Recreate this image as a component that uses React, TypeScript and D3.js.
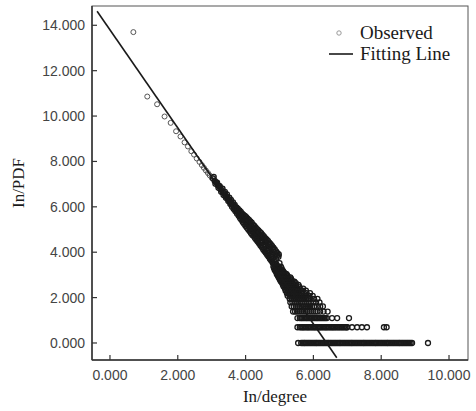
import React from "react";
import * as d3 from "d3";

const xTicks = [0, 2, 4, 6, 8, 10];
const yTicks = [0, 2, 4, 6, 8, 10, 12, 14];

// fitted line: ln(PDF) = intercept + slope * ln(degree)
const fitIntercept = 13.8;
const fitSlope = -2.16;
const fitRange = [-0.38, 6.69];

// low degrees, separate circles
const sparsePoints: [number, number][] = [
  [0.69, 13.7], [1.1, 10.86], [1.39, 10.52], [1.61, 9.98], [1.79, 9.7],
  [1.95, 9.33], [2.08, 9.1], [2.2, 8.84], [2.3, 8.66], [2.4, 8.45],
  [2.48, 8.3], [2.56, 8.13], [2.64, 7.98], [2.71, 7.84], [2.77, 7.72],
  [2.83, 7.6], [2.89, 7.49], [2.94, 7.39], [3.0, 7.28],
];

// dense band
const bandPoints: [number, number][] = [
  [3.04, 7.25], [3.09, 7.14], [3.13, 7.08], [3.18, 6.95], [3.22, 6.92],
  [3.26, 6.78], [3.3, 6.74], [3.33, 6.64], [3.37, 6.6], [3.4, 6.5],
  [3.43, 6.47], [3.47, 6.36], [3.5, 6.33], [3.53, 6.22], [3.56, 6.21],
  [3.58, 6.12], [3.61, 6.13], [3.64, 6.02], [3.66, 6.03], [3.69, 5.92],
  [3.71, 5.95], [3.74, 5.82], [3.76, 5.86], [3.78, 5.74], [3.81, 5.76],
  [3.83, 5.64], [3.85, 5.7], [3.87, 5.58], [3.89, 5.62], [3.91, 5.5],
  [3.93, 5.56], [3.95, 5.4], [3.97, 5.5], [3.99, 5.34], [4.01, 5.44],
  [4.03, 5.26], [4.05, 5.38], [4.07, 5.18], [4.09, 5.32], [4.11, 5.1],
  [4.13, 5.26], [4.15, 5.02], [4.17, 5.18], [4.19, 4.96], [4.21, 5.1],
  [4.23, 4.88], [4.25, 5.04], [4.27, 4.8], [4.29, 4.98], [4.31, 4.72],
  [4.33, 4.92], [4.35, 4.62], [4.37, 4.86], [4.39, 4.56], [4.41, 4.78],
  [4.43, 4.48], [4.45, 4.72], [4.47, 4.4], [4.49, 4.66], [4.51, 4.3],
  [4.53, 4.6], [4.55, 4.22], [4.57, 4.52], [4.59, 4.14], [4.61, 4.46],
  [4.63, 4.06], [4.65, 4.4], [4.67, 3.96], [4.69, 4.32], [4.71, 3.88],
  [4.73, 4.24], [4.75, 3.8], [4.77, 4.18], [4.79, 3.72], [4.81, 4.1],
  [4.83, 3.64], [4.85, 4.0], [4.87, 3.56], [4.89, 3.92], [4.91, 3.46],
  [4.93, 3.86], [4.95, 3.38], [4.97, 3.8], [4.99, 3.3],
  [4.1, 5.2], [4.2, 5.0], [4.3, 4.85], [4.4, 4.66], [4.5, 4.48],
  [4.6, 4.3], [4.7, 4.1], [4.8, 3.92], [4.9, 3.7], [5.0, 3.52],
];

// band edges, upper and lower scatter
const bandEdgePoints: [number, number][] = [
  [3.06, 7.32], [3.11, 7.02], [3.16, 7.06], [3.2, 6.84], [3.24, 6.9],
  [3.28, 6.66], [3.32, 6.8], [3.35, 6.52], [3.39, 6.66], [3.42, 6.4],
  [3.45, 6.55], [3.49, 6.26], [3.52, 6.4], [3.55, 6.12], [3.57, 6.3],
  [3.6, 6.0], [3.63, 6.2], [3.65, 5.9], [3.68, 6.08], [3.7, 5.8],
  [3.73, 5.98], [3.75, 5.7], [3.77, 5.92], [3.8, 5.6], [3.82, 5.84],
  [3.84, 5.5], [3.86, 5.78], [3.88, 5.42], [3.9, 5.7], [3.92, 5.32],
  [3.94, 5.64], [3.96, 5.24], [3.98, 5.6], [4.0, 5.16], [4.02, 5.54],
  [4.04, 5.08], [4.06, 5.48], [4.08, 5.0], [4.1, 5.42], [4.12, 4.92],
  [4.14, 5.36], [4.16, 4.84], [4.18, 5.3], [4.2, 4.76], [4.22, 5.22],
  [4.24, 4.7], [4.26, 5.16], [4.28, 4.62], [4.3, 5.08], [4.32, 4.54],
  [4.34, 5.02], [4.36, 4.46], [4.38, 4.96], [4.4, 4.38], [4.42, 4.9],
  [4.44, 4.3], [4.46, 4.84], [4.48, 4.22], [4.5, 4.76], [4.52, 4.12],
  [4.54, 4.7], [4.56, 4.04], [4.58, 4.62], [4.6, 3.96], [4.62, 4.56],
  [4.64, 3.88], [4.66, 4.5], [4.68, 3.8], [4.7, 4.42], [4.72, 3.7],
  [4.74, 4.36], [4.76, 3.62], [4.78, 4.28], [4.8, 3.54], [4.82, 4.2],
  [4.84, 3.46], [4.86, 4.12], [4.88, 3.38], [4.9, 4.04], [4.92, 3.3],
  [4.94, 3.96], [4.96, 3.22], [4.98, 3.9],
];

// discrete ln(count) levels around degree ln 5 - 6.4
const clusterRows: [number, number[]][] = [
  [3.367, [4.82, 4.88, 4.96, 5.04]],
  [3.296, [4.84, 4.9, 4.98, 5.06]],
  [3.219, [4.86, 4.92, 5.0, 5.08]],
  [3.178, [4.88, 4.94, 5.02, 5.1]],
  [3.135, [4.9, 4.96, 5.04, 5.12]],
  [3.091, [4.92, 4.98, 5.06, 5.14]],
  [3.045, [4.92, 4.98, 5.04, 5.12, 5.2]],
  [2.996, [4.94, 5.0, 5.06, 5.14, 5.22]],
  [2.944, [4.96, 5.02, 5.08, 5.16, 5.24]],
  [2.89, [4.98, 5.04, 5.1, 5.16, 5.24, 5.32]],
  [2.833, [5.0, 5.06, 5.12, 5.18, 5.26, 5.34]],
  [2.773, [5.02, 5.08, 5.14, 5.2, 5.28, 5.36]],
  [2.708, [5.04, 5.1, 5.16, 5.22, 5.28, 5.36, 5.44]],
  [2.639, [5.08, 5.14, 5.2, 5.26, 5.32, 5.4, 5.48]],
  [2.565, [5.1, 5.16, 5.22, 5.28, 5.34, 5.4, 5.48, 5.56]],
  [2.485, [5.12, 5.18, 5.24, 5.3, 5.36, 5.42, 5.5, 5.58]],
  [2.398, [5.16, 5.22, 5.28, 5.34, 5.4, 5.46, 5.52, 5.6, 5.7]],
  [2.303, [5.18, 5.24, 5.3, 5.36, 5.42, 5.48, 5.54, 5.6, 5.68, 5.78]],
  [2.197, [5.22, 5.28, 5.34, 5.4, 5.46, 5.52, 5.58, 5.64, 5.72, 5.8, 5.9]],
  [2.079, [5.24, 5.3, 5.36, 5.42, 5.48, 5.54, 5.6, 5.66, 5.72, 5.8, 5.88, 5.98]],
  [1.946, [5.3, 5.36, 5.42, 5.48, 5.54, 5.6, 5.66, 5.72, 5.78, 5.84, 5.92, 6.02, 6.12]],
  [1.792, [5.32, 5.38, 5.44, 5.5, 5.56, 5.62, 5.68, 5.74, 5.8, 5.86, 5.92, 6.0, 6.08, 6.18]],
  [1.609, [5.36, 5.42, 5.48, 5.54, 5.6, 5.66, 5.72, 5.78, 5.84, 5.9, 5.96, 6.02, 6.1, 6.2, 6.28]],
  [1.386, [5.4, 5.46, 5.52, 5.58, 5.64, 5.7, 5.76, 5.82, 5.88, 5.94, 6.0, 6.06, 6.12, 6.2, 6.3, 6.42]],
];

// count = 3  (ln 3)
const countThreeX = [
  5.53, 5.6, 5.64, 5.67, 5.71, 5.75, 5.79, 5.82, 5.86, 5.9, 5.94, 5.97, 6.01,
  6.05, 6.09, 6.12, 6.16, 6.2, 6.24, 6.28, 6.32, 6.36, 6.4, 6.55, 6.7, 7.05,
];
// count = 2  (ln 2)
const countTwoX = [
  5.53, 5.6, 5.64, 5.68, 5.71, 5.75, 5.79, 5.83, 5.86, 5.9, 5.94, 5.98, 6.02,
  6.05, 6.09, 6.13, 6.17, 6.2, 6.24, 6.28, 6.32, 6.36, 6.39, 6.43, 6.47, 6.51,
  6.55, 6.58, 6.62, 6.66, 6.7, 6.74, 6.78, 6.82, 6.86, 6.9, 6.94, 6.98, 7.0,
  7.14, 7.29, 7.43, 7.58, 8.08, 8.16,
];
// count = 1  (ln 1)
const countOneX = [
  5.55, 5.64, 5.68, 5.72, 5.75, 5.79, 5.83, 5.87, 5.91, 5.95, 5.99, 6.03, 6.07,
  6.1, 6.14, 6.18, 6.22, 6.26, 6.3, 6.34, 6.38, 6.42, 6.45, 6.49, 6.53, 6.57,
  6.61, 6.65, 6.69, 6.73, 6.77, 6.8, 6.84, 6.88, 6.92, 6.96, 7.0, 7.04, 7.08,
  7.12, 7.15, 7.19, 7.23, 7.27, 7.31, 7.35, 7.39, 7.43, 7.47, 7.5, 7.54, 7.58,
  7.62, 7.66, 7.7, 7.74, 7.78, 7.82, 7.85, 7.89, 7.93, 7.97, 8.01, 8.05, 8.09,
  8.13, 8.17, 8.2, 8.24, 8.28, 8.32, 8.36, 8.4, 8.44, 8.48, 8.52, 8.55, 8.59,
  8.63, 8.67, 8.71, 8.75, 8.79, 8.83, 8.87, 8.91, 9.38,
];
const countLevels = [Math.log(1), Math.log(2), Math.log(3)];

const densePoints: [number, number][] = [
  ...bandPoints,
  ...bandEdgePoints,
  ...clusterRows.flatMap(([ly, xs]) => xs.map((v) => [v, ly] as [number, number])),
  ...countOneX.map((v) => [v, countLevels[0]] as [number, number]),
  ...countTwoX.map((v) => [v, countLevels[1]] as [number, number]),
  ...countThreeX.map((v) => [v, countLevels[2]] as [number, number]),
];

const W = 476;
const H = 411;
const ink = "#1a1a1a";
const tickFont = "'Liberation Sans', Arial, sans-serif";
const serif = "'Liberation Serif', 'Times New Roman', serif";

export default function App() {
  const x = d3.scaleLinear().domain([-0.53, 10.56]).range([92, 468]);
  const y = d3.scaleLinear().domain([-0.75, 14.85]).range([360, 6]);
  const [x0, x1] = x.range();
  const [y0, y1] = y.range();
  const fmt = d3.format(".3f");

  const fitLine = d3
    .line<number>()
    .x((d) => x(d))
    .y((d) => y(fitIntercept + fitSlope * d));

  return (
    <div style={{ position: "absolute", left: 0, top: 0 }}>
      <svg width={W} height={H} style={{ display: "block", background: "#fff" }}>
        {/* frame */}
        <rect x={x0} y={y1} width={x1 - x0} height={y0 - y1} fill="none" stroke="#555" strokeWidth={1} />
        <line x1={x0} x2={x0} y1={y1} y2={y0} stroke="#333" strokeWidth={1.5} />
        <line x1={x0} x2={x1} y1={y0} y2={y0} stroke="#333" strokeWidth={1.5} />

        {/* y axis */}
        {yTicks.map((t) => (
          <g key={"y" + t}>
            <line x1={x0} x2={x0 + 5} y1={y(t)} y2={y(t)} stroke="#333" strokeWidth={1.2} />
            <text x={x0 - 7} y={y(t)} dy="0.36em" textAnchor="end" fontFamily={tickFont} fontSize={14} fill="#444">
              {fmt(t)}
            </text>
          </g>
        ))}
        {/* x axis */}
        {xTicks.map((t) => (
          <g key={"x" + t}>
            <line x1={x(t)} x2={x(t)} y1={y0} y2={y0 - 5} stroke="#333" strokeWidth={1.2} />
            <text x={x(t)} y={y0 + 20} textAnchor="middle" fontFamily={tickFont} fontSize={14} fill="#444">
              {fmt(t)}
            </text>
          </g>
        ))}

        <text
          transform={`translate(24,${(y0 + y1) / 2}) rotate(-90)`}
          textAnchor="middle"
          fontFamily={serif}
          fontSize={17}
          fill={ink}
        >
          In/PDF
        </text>
        <text x={(x0 + x1) / 2 - 5} y={402} textAnchor="middle" fontFamily={serif} fontSize={17} fill={ink}>
          In/degree
        </text>

        {/* observed */}
        <g fill="none" stroke="#555" strokeWidth={1}>
          {sparsePoints.map(([a, b], i) => (
            <circle key={i} cx={x(a)} cy={y(b)} r={2.5} />
          ))}
        </g>
        <g fill="none" stroke={ink} strokeWidth={1.3}>
          {densePoints.map(([a, b], i) => (
            <circle key={i} cx={x(a)} cy={y(b)} r={2.5} />
          ))}
        </g>

        {/* fitting line */}
        <path d={fitLine(fitRange) ?? ""} fill="none" stroke={ink} strokeWidth={1.6} />

        {/* legend */}
        <circle cx={339} cy={33} r={2.2} fill="none" stroke="#999" strokeWidth={1} />
        <text x={360} y={39} fontFamily={serif} fontSize={19} fill={ink}>
          Observed
        </text>
        <line x1={329} x2={353} y1={54} y2={54} stroke={ink} strokeWidth={1.6} />
        <text x={360} y={60} fontFamily={serif} fontSize={19} fill={ink}>
          Fitting Line
        </text>
      </svg>
    </div>
  );
}
